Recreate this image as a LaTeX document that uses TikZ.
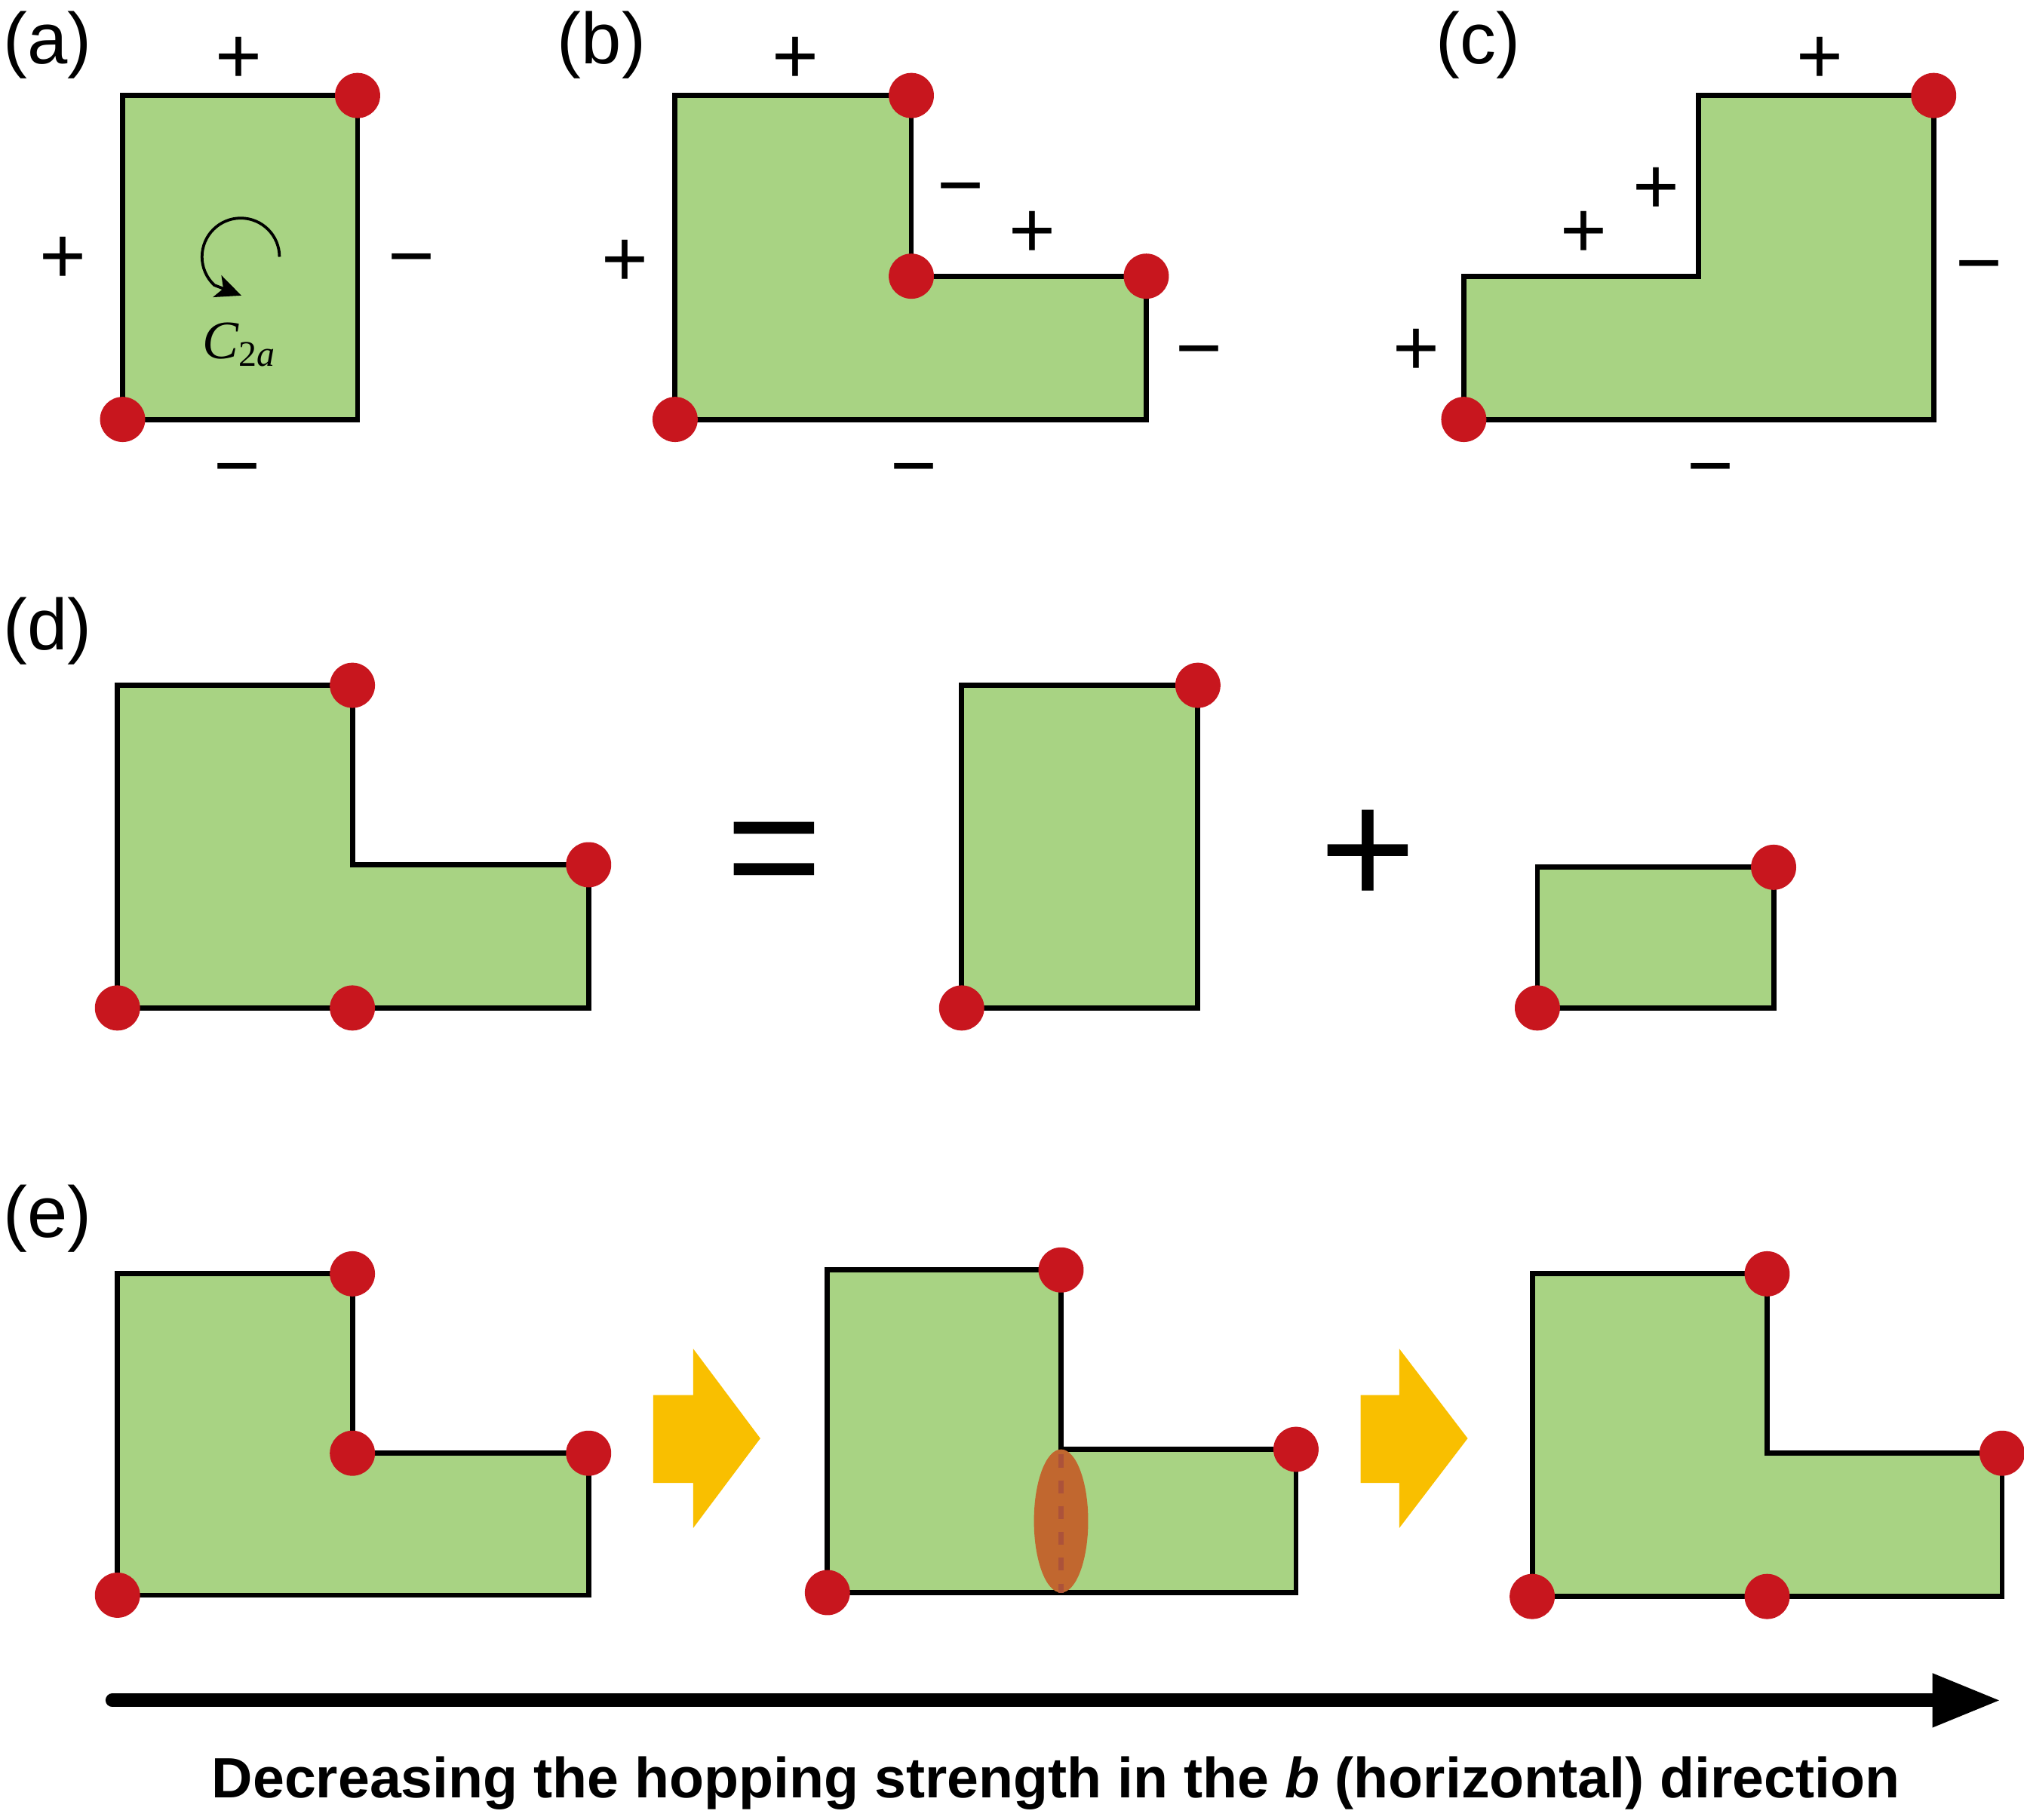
\documentclass[tikz,border=0pt]{standalone}
\usepackage{fontspec}
\setmainfont{Liberation Sans}
\newfontfamily\timesfont{Liberation Serif}
\usetikzlibrary{arrows.meta,positioning}
\definecolor{plaqGreen}{RGB}{168, 211, 131}
\definecolor{siteRed}{RGB}{200, 22, 30}
\definecolor{flowYellow}{RGB}{249, 191, 0}
\definecolor{bondOrange}{RGB}{193, 103, 47}
\definecolor{bondDash}{RGB}{172, 82, 58}

\begin{document}
\begin{tikzpicture}[
  x=1pt, y=-1pt,
  plaq/.style={fill=plaqGreen, draw=black, line width=4pt, line join=miter},
  site/.style={circle, fill=siteRed, inner sep=0pt, minimum size=35pt},
  sgn/.style={inner sep=0pt, font=\fontsize{62}{62}\selectfont,
              text height=43.4pt, text depth=0pt},
  bigsgn/.style={inner sep=0pt, font=\fontsize{128}{128}\selectfont,
                 text height=89.6pt, text depth=0pt},
  panel/.style={inner sep=0pt, font=\fontsize{56}{56}\selectfont},
  flow/.style={fill=flowYellow}
]
\useasboundingbox (0,0) rectangle (1568,1410);

% (a) single plaquette
\node[panel] (lblA) at (37,35) {(a)};
\draw[plaq] (95,74) rectangle (277,325);
\node[site] (a1) at (277,74) {};
\node[site] (a2) at (95,325) {};
\node[sgn] (aT) at (185,43) {+};
\node[sgn] (aL) at (49,198) {+};
\node[sgn] (aR) at (319,198) {−};
\node[sgn] (aB) at (184,360) {−};
\draw[line width=2.2pt, -{Stealth[length=20pt,width=18pt,inset=5pt]}]
  (216.5,199) arc[start angle=0, end angle=-227, radius=30] -- (187,229);
\node[inner sep=0pt, anchor=base west] (c2a) at (157,278)
  {\timesfont\fontsize{42}{42}\selectfont\itshape C\raisebox{-6pt}{\fontsize{28}{28}\selectfont\upshape 2\itshape a}};

% (b)
\node[panel] (lblB) at (466,35) {(b)};
\draw[plaq] (523,74) -- (706,74) -- (706,214) -- (888,214) -- (888,325) -- (523,325) -- cycle;
\node[site] (b1) at (706,74) {};
\node[site] (b2) at (706,214) {};
\node[site] (b3) at (888,214) {};
\node[site] (b4) at (523,325) {};
\node[sgn] (bT) at (616,43) {+};
\node[sgn] (bL) at (484,200) {+};
\node[sgn] (bS) at (744,143) {−};
\node[sgn] (bM) at (800,178) {+};
\node[sgn] (bR) at (929,269) {−};
\node[sgn] (bB) at (708,360) {−};

% (c)
\node[panel] (lblC) at (1145,35) {(c)};
\draw[plaq] (1134,214) -- (1316,214) -- (1316,74) -- (1498,74) -- (1498,325) -- (1134,325) -- cycle;
\node[site] (c1) at (1498,74) {};
\node[site] (c2) at (1134,325) {};
\node[sgn] (cT) at (1410,43) {+};
\node[sgn] (cS) at (1283,144) {+};
\node[sgn] (cM) at (1227,178) {+};
\node[sgn] (cL) at (1097,269) {+};
\node[sgn] (cR) at (1533,203) {−};
\node[sgn] (cB) at (1325,360) {−};

% (d) decomposition
\node[panel] (lblD) at (37,489) {(d)};
\draw[plaq] (91,531) -- (273,531) -- (273,670) -- (456,670) -- (456,781) -- (91,781) -- cycle;
\node[site] (d1) at (273,531) {};
\node[site] (d2) at (456,670) {};
\node[site] (d3) at (91,781) {};
\node[site] (d4) at (273,781) {};
\node[bigsgn] (eq) at (600,655) {=};
\draw[plaq] (745,531) rectangle (928,781);
\node[site] (d5) at (928,531) {};
\node[site] (d6) at (745,781) {};
\node[bigsgn] (plus) at (1060,657) {+};
\draw[plaq] (1191,672) rectangle (1374,781);
\node[site] (d7) at (1374,672) {};
\node[site] (d8) at (1191,781) {};

% (e) evolution
\node[panel] (lblE) at (37,944) {(e)};
\draw[plaq] (91,987) -- (273,987) -- (273,1126) -- (456,1126) -- (456,1236) -- (91,1236) -- cycle;
\node[site] (e1) at (273,987) {};
\node[site] (e2) at (273,1126) {};
\node[site] (e3) at (456,1126) {};
\node[site] (e4) at (91,1236) {};
\fill[flow] (506,1081) -- (537,1081) -- (537,1045) -- (589,1114.5) -- (537,1184) -- (537,1149) -- (506,1149) -- cycle;

\draw[plaq] (641,984) -- (822,984) -- (822,1123) -- (1004,1123) -- (1004,1234) -- (641,1234) -- cycle;
\fill[bondOrange] (822,1178.5) ellipse [x radius=21pt, y radius=55.5pt];
\draw[bondDash, line width=4pt, dash pattern=on 10pt off 10pt] (822,1127) -- (822,1234);
\node[site] (e5) at (822,984) {};
\node[site] (e6) at (1004,1123) {};
\node[site] (e7) at (641,1234) {};
\fill[flow] (1054,1081) -- (1084,1081) -- (1084,1045) -- (1137,1114.5) -- (1084,1184) -- (1084,1149) -- (1054,1149) -- cycle;

\draw[plaq] (1187,987) -- (1369,987) -- (1369,1126) -- (1551,1126) -- (1551,1237) -- (1187,1237) -- cycle;
\node[site] (e8) at (1369,987) {};
\node[site] (e9) at (1551,1126) {};
\node[site] (e10) at (1187,1237) {};
\node[site] (e11) at (1369,1237) {};

% direction arrow
\coordinate (flowStart) at (87,1317.5);
\coordinate (flowEnd) at (1550,1317.5);
\draw[line width=10.5pt, line cap=round, -{Triangle[length=53pt,width=39pt]}] (flowStart) -- (flowEnd);
\node[inner sep=0pt, anchor=base, font=\fontsize{44}{44}\selectfont\bfseries] (caption) at (818,1393)
  {Decreasing the hopping strength in the \textit{b} (horizontal) direction};
\end{tikzpicture}
\end{document}
